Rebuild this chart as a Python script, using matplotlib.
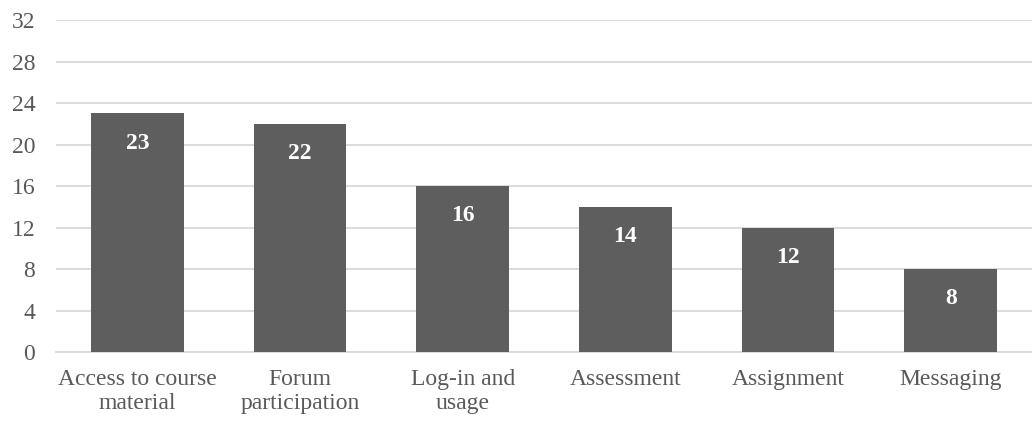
import matplotlib.pyplot as plt

categories = ["Access to course\nmaterial", "Forum\nparticipation", "Log-in and\nusage",
              "Assessment", "Assignment", "Messaging"]
values = [23, 22, 16, 14, 12, 8]
yticks = [0, 4, 8, 12, 16, 20, 24, 28, 32]

plt.rcParams['font.family'] = ['Liberation Serif', 'DejaVu Serif']

fig = plt.figure(figsize=(10.32, 4.24), dpi=100)
ax = fig.add_axes([0.0543, 0.1698, 0.9457, 0.783])

x = range(len(categories))
bars = ax.bar(x, values, width=0.57, color='#5e5e5e', zorder=3)

for b, v in zip(bars, values):
    ax.annotate(str(v), (b.get_x() + b.get_width() / 2, v), xytext=(0, -14),
                textcoords='offset points', ha='center', va='top',
                color='white', fontsize=17, fontweight='bold', zorder=4)

ax.set_xlim(-0.5, len(categories) - 0.5)
ax.set_ylim(0, 32)
ax.set_yticks(yticks)
ax.grid(axis='y', color='#d9d9d9', linewidth=1.3, zorder=0)
ax.set_xticks(list(x))
ax.set_xticklabels(categories, fontsize=17, color='#595959', linespacing=1.2)
ax.tick_params(axis='y', labelsize=17, labelcolor='#595959', length=0, pad=15)
ax.tick_params(axis='x', length=0, pad=12)
for s in ['top', 'right', 'left']:
    ax.spines[s].set_visible(False)
ax.spines['bottom'].set_color('#d9d9d9')
ax.spines['bottom'].set_linewidth(1.3)

fig.savefig('out.png', dpi=100)
